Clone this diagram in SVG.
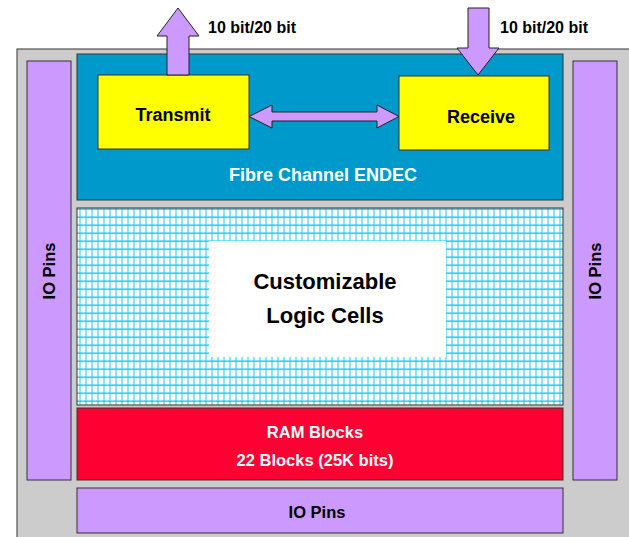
<svg xmlns="http://www.w3.org/2000/svg" width="629" height="537" viewBox="0 0 629 537">
<defs>
<style>
.box{stroke:#333;stroke-width:1}
.t{font-family:"Liberation Sans",Arial,sans-serif;font-weight:bold;text-anchor:middle}
.arr{fill:#cc99ff;stroke:#222;stroke-width:1;stroke-linejoin:miter}
</style>
<pattern id="grid" x="77" y="208" width="6" height="8" patternUnits="userSpaceOnUse">
<rect width="6" height="8" fill="#ffffff"/>
<rect x="2" y="0" width="2" height="8" fill="#8fe3f8"/>
<rect x="0" y="0.5" width="6" height="1.3" fill="#00ccff"/>
</pattern>
</defs>
<rect width="629" height="537" fill="#ffffff"/>
<g id="chip">
<rect class="box" x="17" y="49" width="620" height="500" fill="#cccccc"/>
</g>
<g id="io-left">
<rect class="box" x="27" y="61" width="44" height="419" fill="#cc99ff"/>
<text class="t" font-size="16.5" transform="translate(55,271) rotate(-90)">IO Pins</text>
</g>
<g id="io-right">
<rect class="box" x="573" y="61" width="44" height="419" fill="#cc99ff"/>
<text class="t" font-size="16.5" transform="translate(601,271) rotate(-90)">IO Pins</text>
</g>
<g id="endec">
<rect class="box" x="77" y="54" width="486" height="146" fill="#0099cc"/>
<text class="t" font-size="18" x="323" y="181" fill="#ffffff">Fibre Channel ENDEC</text>
</g>
<g id="transmit">
<rect class="box" x="98" y="75" width="151" height="74" fill="#ffff00"/>
<text class="t" font-size="18" x="173" y="121">Transmit</text>
</g>
<g id="receive">
<rect class="box" x="399" y="76" width="150" height="74" fill="#ffff00"/>
<text class="t" font-size="18" x="481" y="123">Receive</text>
</g>
<g id="logic">
<rect class="box" x="77" y="208" width="486" height="197" fill="url(#grid)"/>
<rect x="209" y="241" width="237" height="116" fill="#ffffff"/>
<text class="t" font-size="22" x="325" y="289">Customizable</text>
<text class="t" font-size="22" x="325" y="323">Logic Cells</text>
</g>
<g id="ram">
<rect class="box" x="77" y="408" width="486" height="72" fill="#ff0033"/>
<text class="t" font-size="16.5" x="315" y="438" fill="#ffffff">RAM Blocks</text>
<text class="t" font-size="16.5" x="315" y="466" fill="#ffffff">22 Blocks (25K bits)</text>
</g>
<g id="io-bottom">
<rect class="box" x="77" y="488" width="486" height="45" fill="#cc99ff"/>
<text class="t" font-size="16.5" x="317" y="518">IO Pins</text>
</g>
<g id="connectors">
<polygon class="arr" points="178,8 199,36 189,36 189,75 167,75 167,36 157,36"/>
<polygon class="arr" points="468,8 489,8 489,48 499,48 478,75 457,48 468,48"/>
<polygon class="arr" points="249,116.5 272,105 272,112 377,112 377,105 399,116.5 377,128 377,121 272,121 272,128"/>
<text class="t" font-size="16" x="252" y="33">10 bit/20 bit</text>
<text class="t" font-size="16" x="544" y="33">10 bit/20 bit</text>
</g>
</svg>
